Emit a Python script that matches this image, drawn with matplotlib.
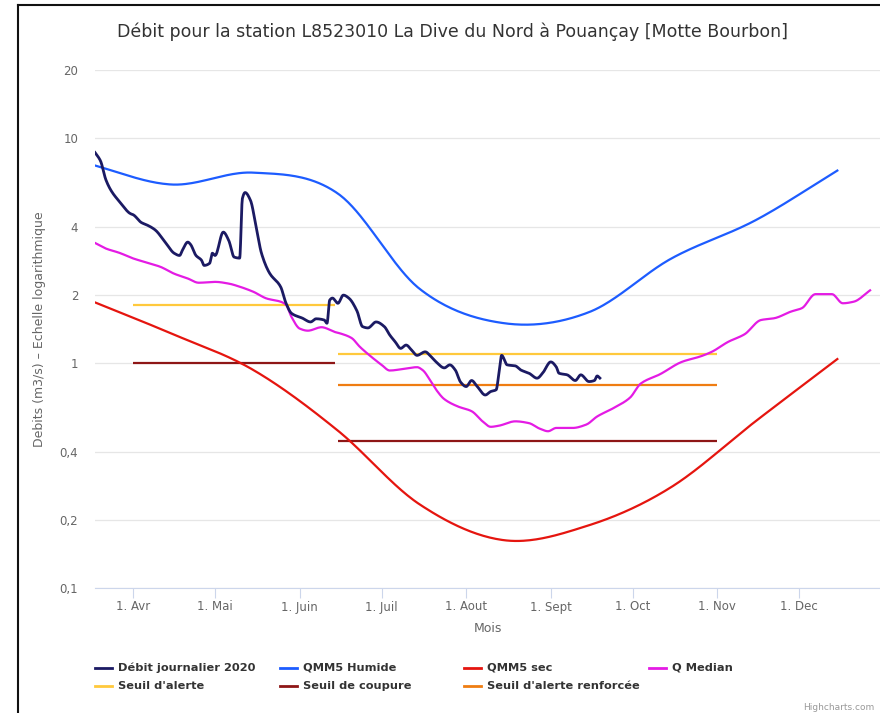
import numpy as np
import pandas as pd
import matplotlib
matplotlib.use("Agg")
import matplotlib.pyplot as plt
import matplotlib.dates as mdates
from matplotlib.lines import Line2D

TITLE = "Débit pour la station L8523010 La Dive du Nord à Pouançay [Motte Bourbon]"

# monthly reference flows (15th of each month)
qmm5_dates = ["2020-03-15", "2020-04-15", "2020-05-15", "2020-06-15", "2020-07-15",
              "2020-08-15", "2020-09-15", "2020-10-15", "2020-11-15", "2020-12-15"]
qmm5_humide = [7.7, 6.2, 7.0, 5.65, 2.13, 1.50, 1.68, 2.9, 4.3, 7.15]
qmm5_sec = [1.92, 1.35, 0.93, 0.50, 0.235, 0.163, 0.19, 0.28, 0.55, 1.04]

# daily flow 2020
debit_dates = [
    "2020-03-18", "2020-03-20", "2020-03-22", "2020-03-24", "2020-03-27", "2020-03-31",
    "2020-04-01", "2020-04-04", "2020-04-06", "2020-04-09", "2020-04-13", "2020-04-16",
    "2020-04-18", "2020-04-19", "2020-04-21", "2020-04-22", "2020-04-24", "2020-04-26",
    "2020-04-27", "2020-04-29", "2020-04-30", "2020-05-01", "2020-05-04", "2020-05-06",
    "2020-05-08", "2020-05-10", "2020-05-11", "2020-05-12", "2020-05-14", "2020-05-16",
    "2020-05-18", "2020-05-21", "2020-05-25", "2020-05-27", "2020-05-29", "2020-06-02",
    "2020-06-05", "2020-06-07", "2020-06-10", "2020-06-11", "2020-06-12", "2020-06-13",
    "2020-06-15", "2020-06-17", "2020-06-19", "2020-06-22", "2020-06-24", "2020-06-26",
    "2020-06-29", "2020-07-02", "2020-07-04", "2020-07-06", "2020-07-08", "2020-07-10",
    "2020-07-12", "2020-07-14", "2020-07-17", "2020-07-19", "2020-07-21", "2020-07-24",
    "2020-07-26", "2020-07-28", "2020-07-30", "2020-08-01", "2020-08-03", "2020-08-05",
    "2020-08-08", "2020-08-10", "2020-08-12", "2020-08-13", "2020-08-14", "2020-08-16",
    "2020-08-19", "2020-08-21", "2020-08-24", "2020-08-27", "2020-08-29", "2020-09-01",
    "2020-09-03", "2020-09-04", "2020-09-07", "2020-09-10", "2020-09-12", "2020-09-15",
    "2020-09-17", "2020-09-18", "2020-09-19",
]
debit_2020 = [
    8.6, 7.9, 6.5, 5.8, 5.2, 4.6,
    4.55, 4.2, 4.1, 3.9, 3.4, 3.07,
    3.0, 3.16, 3.44, 3.36, 3.0, 2.86,
    2.71, 2.77, 3.07, 3.0, 3.81, 3.5,
    2.95, 2.92, 5.37, 5.71, 5.26, 4.04,
    3.07, 2.5, 2.18, 1.84, 1.66, 1.58,
    1.52, 1.57, 1.55, 1.50, 1.90, 1.94,
    1.84, 2.0, 1.94, 1.70, 1.45, 1.43,
    1.52, 1.45, 1.33, 1.24, 1.16, 1.20,
    1.14, 1.08, 1.12, 1.07, 1.01, 0.95,
    0.98, 0.93, 0.82, 0.785, 0.835, 0.787,
    0.72, 0.746, 0.76, 0.90, 1.08, 0.98,
    0.97, 0.93, 0.90, 0.855, 0.90, 1.01,
    0.96, 0.90, 0.885, 0.835, 0.885, 0.826,
    0.835, 0.875, 0.856,
]

# median flow
median_dates = [
    "2020-03-18", "2020-03-22", "2020-03-27", "2020-04-01", "2020-04-06", "2020-04-11",
    "2020-04-16", "2020-04-21", "2020-04-25", "2020-05-01", "2020-05-06", "2020-05-10",
    "2020-05-15", "2020-05-20", "2020-05-25", "2020-05-27", "2020-05-29", "2020-06-01",
    "2020-06-04", "2020-06-09", "2020-06-14", "2020-06-16", "2020-06-20", "2020-06-23",
    "2020-06-27", "2020-07-01", "2020-07-04", "2020-07-09", "2020-07-14", "2020-07-16",
    "2020-07-19", "2020-07-21", "2020-07-24", "2020-07-29", "2020-08-03", "2020-08-07",
    "2020-08-10", "2020-08-13", "2020-08-19", "2020-08-24", "2020-08-28", "2020-08-31",
    "2020-09-03", "2020-09-09", "2020-09-14", "2020-09-18", "2020-09-24", "2020-09-30",
    "2020-10-04", "2020-10-11", "2020-10-19", "2020-10-26", "2020-10-30", "2020-11-05",
    "2020-11-11", "2020-11-17", "2020-11-22", "2020-11-28", "2020-12-02", "2020-12-07",
    "2020-12-13", "2020-12-17", "2020-12-21", "2020-12-27",
]
q_median = [
    3.41, 3.22, 3.08, 2.91, 2.79, 2.67,
    2.49, 2.37, 2.27, 2.29, 2.25, 2.18,
    2.07, 1.93, 1.87, 1.81, 1.60, 1.42,
    1.39, 1.44, 1.37, 1.35, 1.29, 1.18,
    1.07, 0.98, 0.925, 0.94, 0.957, 0.93,
    0.83, 0.76, 0.69, 0.64, 0.61, 0.55,
    0.52, 0.526, 0.55, 0.54, 0.51, 0.497,
    0.514, 0.514, 0.532, 0.578, 0.63, 0.70,
    0.81, 0.89, 1.01, 1.07, 1.12, 1.24,
    1.34, 1.55, 1.58, 1.69, 1.75, 2.02,
    2.02, 1.84, 1.87, 2.10,
]

# regulatory thresholds, per period
periods = [("2020-04-01", "2020-06-14"), ("2020-06-15", "2020-11-01")]
seuil_alerte = [1.8, 1.1]
seuil_coupure = [1.0, 0.45]
seuil_renforcee = [None, 0.8]

month_ticks = ["2020-04-01", "2020-05-01", "2020-06-01", "2020-07-01", "2020-08-01",
               "2020-09-01", "2020-10-01", "2020-11-01", "2020-12-01"]
month_labels = ["1. Avr", "1. Mai", "1. Juin", "1. Juil", "1. Aout",
                "1. Sept", "1. Oct", "1. Nov", "1. Dec"]
y_ticks = [0.1, 0.2, 0.4, 1, 2, 4, 10, 20]
y_labels = ["0,1", "0,2", "0,4", "1", "2", "4", "10", "20"]

C_DEBIT = "#1b1a63"
C_HUMIDE = "#1d5cff"
C_SEC = "#e5150f"
C_MED = "#e41be4"
C_ALERTE = "#ffc93c"
C_COUPURE = "#8e1616"
C_RENF = "#ef7d12"


def to_num(dates):
    return mdates.date2num(pd.to_datetime(dates))


def smooth(dates, values, n=12, monotone=True):
    """Cubic Hermite curve in log space, to get the Highcharts spline look."""
    x = to_num(dates).astype(float)
    y = np.log10(np.asarray(values, float))
    h = np.diff(x)
    d = np.diff(y) / h
    m = np.zeros_like(y)
    m[0], m[-1] = d[0], d[-1]
    for i in range(1, len(y) - 1):
        if not monotone:
            m[i] = (y[i + 1] - y[i - 1]) / (x[i + 1] - x[i - 1])
        elif d[i - 1] * d[i] > 0:
            w1 = 2 * h[i] + h[i - 1]
            w2 = h[i] + 2 * h[i - 1]
            m[i] = (w1 + w2) / (w1 / d[i - 1] + w2 / d[i])
    t = np.linspace(0, 1, n, endpoint=False)
    h00 = 2 * t**3 - 3 * t**2 + 1
    h10 = t**3 - 2 * t**2 + t
    h01 = -2 * t**3 + 3 * t**2
    h11 = t**3 - t**2
    xs, ys = [], []
    for i in range(len(x) - 1):
        xs.append(x[i] + t * h[i])
        ys.append(h00 * y[i] + h10 * h[i] * m[i] + h01 * y[i + 1] + h11 * h[i] * m[i + 1])
    xs.append([x[-1]])
    ys.append([y[-1]])
    return np.concatenate(xs), 10 ** np.concatenate(ys)


W, H = 880, 713
fig = plt.figure(figsize=(W / 100, H / 100), dpi=100)
ax = fig.add_axes([95 / W, (H - 588) / H, 786 / W, 518 / H])

ax.set_yscale("log")
ax.set_ylim(0.1, 20)
ax.set_xlim(to_num(["2020-03-18"])[0], to_num(["2020-12-31"])[0])

# thresholds
for (start, end), a, c, r in zip(periods, seuil_alerte, seuil_coupure, seuil_renforcee):
    xx = to_num([start, end])
    ax.plot(xx, [a, a], color=C_ALERTE, lw=1.6, solid_capstyle="butt")
    ax.plot(xx, [c, c], color=C_COUPURE, lw=1.6, solid_capstyle="butt")
    if r is not None:
        ax.plot(xx, [r, r], color=C_RENF, lw=1.6, solid_capstyle="butt")

ax.plot(*smooth(qmm5_dates, qmm5_sec, 40, monotone=False), color=C_SEC, lw=1.6)
ax.plot(*smooth(qmm5_dates, qmm5_humide, 40, monotone=False), color=C_HUMIDE, lw=1.6)
ax.plot(*smooth(median_dates, q_median), color=C_MED, lw=1.6)
ax.plot(*smooth(debit_dates, debit_2020), color=C_DEBIT, lw=2.0)

# axes styling
ax.set_yticks(y_ticks)
ax.set_yticklabels(y_labels)
ax.yaxis.set_minor_locator(matplotlib.ticker.NullLocator())
ax.set_xticks(to_num(month_ticks))
ax.set_xticklabels(month_labels)
ax.grid(axis="y", color="#e6e6e6", lw=0.9)
ax.set_axisbelow(True)
for s in ["left", "right", "top"]:
    ax.spines[s].set_visible(False)
ax.spines["bottom"].set_color("#ccd6eb")
ax.spines["bottom"].set_linewidth(0.8)
ax.tick_params(axis="y", length=0, pad=12, labelsize=8.5, labelcolor="#666666")
ax.tick_params(axis="x", length=7, width=0.8, color="#ccd6eb", pad=2,
               labelsize=8.5, labelcolor="#666666")
ax.set_xlabel("Mois", fontsize=9, color="#666666", labelpad=6)
ax.set_ylabel("Debits (m3/s) – Echelle logarithmique", fontsize=9, color="#666666", labelpad=10)

fig.text(452 / W, 1 - 32 / H, TITLE, ha="center", va="center", fontsize=12.5, color="#333333")

# legend, Highcharts style (fixed item width)
legend_items = [
    ("Débit journalier 2020", C_DEBIT), ("QMM5 Humide", C_HUMIDE),
    ("QMM5 sec", C_SEC), ("Q Median", C_MED),
    ("Seuil d'alerte", C_ALERTE), ("Seuil de coupure", C_COUPURE),
    ("Seuil d'alerte renforcée", C_RENF),
]
for i, (label, col) in enumerate(legend_items):
    x0 = 95 + (i % 4) * 184.5
    y0 = 668 + (i // 4) * 18
    fig.add_artist(Line2D([x0 / W, (x0 + 17) / W], [1 - y0 / H, 1 - y0 / H],
                          color=col, lw=2.0, transform=fig.transFigure))
    fig.text((x0 + 23) / W, 1 - y0 / H, label, ha="left", va="center",
             fontsize=8.2, fontweight="bold", color="#333333")

fig.text(803 / W, 1 - 707 / H, "Highcharts.com", ha="left", va="center", fontsize=6.5, color="#999999")

# screenshot frame
fig.add_artist(Line2D([18 / W, 18 / W], [0, 1 - 5 / H], color="#111111", lw=1.5, transform=fig.transFigure))
fig.add_artist(Line2D([18 / W, 1], [1 - 5 / H, 1 - 5 / H], color="#111111", lw=1.5, transform=fig.transFigure))

fig.savefig("out.png", dpi=100)
